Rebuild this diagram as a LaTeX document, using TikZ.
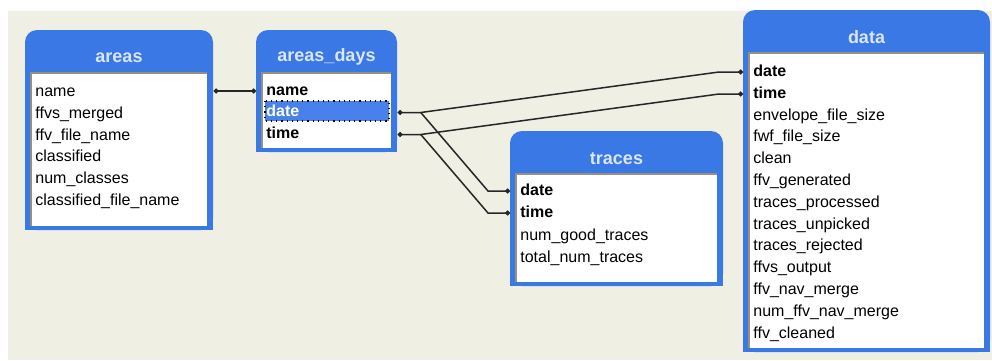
\documentclass[tikz,border=0pt]{standalone}
\usepackage{fontspec}
\setmainfont{Liberation Sans}
\usetikzlibrary{calc,arrows.meta}

\definecolor{tblue}{RGB}{58,120,230}
\definecolor{ttext}{RGB}{218,230,250}
\definecolor{hilite}{RGB}{72,128,236}
\definecolor{inset}{RGB}{150,146,122}
\definecolor{bgcol}{RGB}{239,239,228}

\tikzset{
  tbltitle/.style={text=ttext, font=\bfseries\fontsize{9}{10}\selectfont},
  field/.style={anchor=west, inner xsep=5pt, inner ysep=0pt, text height=6pt, text depth=2pt,
    align=left, font=\fontsize{8}{9}\selectfont},
  key/.style={field, font=\bfseries\fontsize{8}{9}\selectfont},
  link/.style={line width=0.75pt, black!85, >={Circle[length=2.4pt]}}
}

% frame of one table: left, top, right, bottom (pixels)
\newcommand{\tblbox}[4]{%
  \fill[tblue, rounded corners=6pt] (#1,#2) rectangle (#3,#4);
  \fill[tblue] (#1,#2+20) rectangle (#3,#4);
  \fill[white] (#1+6,#2+43) rectangle (#3-6,#4-4);
  \draw[inset, line width=0.8pt] (#1+6,#4-4) -- (#1+6,#2+43) -- (#3-6,#2+43);
}

\begin{document}
\begin{tikzpicture}[x=0.5pt, y=-0.5pt]
  \fill[white] (0,0) rectangle (992,360);
  \useasboundingbox (0,0) rectangle (992,360);
  \fill[bgcol] (8,11) rectangle (992,360);

  % areas
  \tblbox{25}{30}{213}{230}
  \node[tbltitle] (areas) at (119,58) {areas};
  \foreach \f [count=\i from 0] in {name, ffvs\_merged, ffv\_file\_name, classified,
      num\_classes, classified\_file\_name}
    \node[field, text width=84pt] (ar-\i) at (25,{92.5+21.8*\i}) {\f};

  % areas_days
  \tblbox{256}{30}{397}{152}
  \node[tbltitle] (areasdays) at (326.5,57) {areas\_days};
  \fill[hilite] (265,101) rectangle (389,121);
  \draw[dotted, line width=0.6pt] (265,101) rectangle (389,121);
  \node[key, text width=60.5pt] (ad-name) at (256,91) {name};
  \node[key, text width=60.5pt, text=white] (ad-date) at (256,112.5) {date};
  \node[key, text width=60.5pt] (ad-time) at (256,134.5) {time};

  % traces
  \tblbox{510}{131}{723}{286}
  \node[tbltitle] (traces) at (616.5,159) {traces};
  \node[key, text width=96.5pt] (tr-date) at (510,191) {date};
  \node[key, text width=96.5pt] (tr-time) at (510,213) {time};
  \node[field, text width=96.5pt] (tr-good) at (510,236) {num\_good\_traces};
  \node[field, text width=96.5pt] (tr-total) at (510,258) {total\_num\_traces};

  % data
  \tblbox{743}{10}{990}{352}
  \node[tbltitle] (data) at (866.5,37) {data};
  \node[key, text width=113.5pt] (dt-date) at (743,72) {date};
  \node[key, text width=113.5pt] (dt-time) at (743,94) {time};
  \foreach \f [count=\i from 2] in {envelope\_file\_size, fwf\_file\_size, clean,
      ffv\_generated, traces\_processed, traces\_unpicked, traces\_rejected,
      ffvs\_output, ffv\_nav\_merge, num\_ffv\_nav\_merge, ffv\_cleaned}
    \node[field, text width=113.5pt] (dt-\i) at (743,{72.5+21.8*\i}) {\f};

  % relations
  \draw[link, <->] (ad-name.west -| ar-0.east) -- (ad-name.west);
  \draw[link, <->] (ad-date.east) -- ++(23,0) coordinate (j1)
    -- ($(dt-date.west)+(-24,0)$) -- (dt-date.west);
  \draw[link, <->] (ad-time.east) -- ++(23,0) coordinate (j2)
    -- ($(dt-time.west)+(-24,0)$) -- (dt-time.west);
  \draw[link, ->] (j1) -- ($(tr-date.west)+(-22,0)$) -- (tr-date.west);
  \draw[link, ->] (j2) -- ($(tr-time.west)+(-22,0)$) -- (tr-time.west);
\end{tikzpicture}
\end{document}
